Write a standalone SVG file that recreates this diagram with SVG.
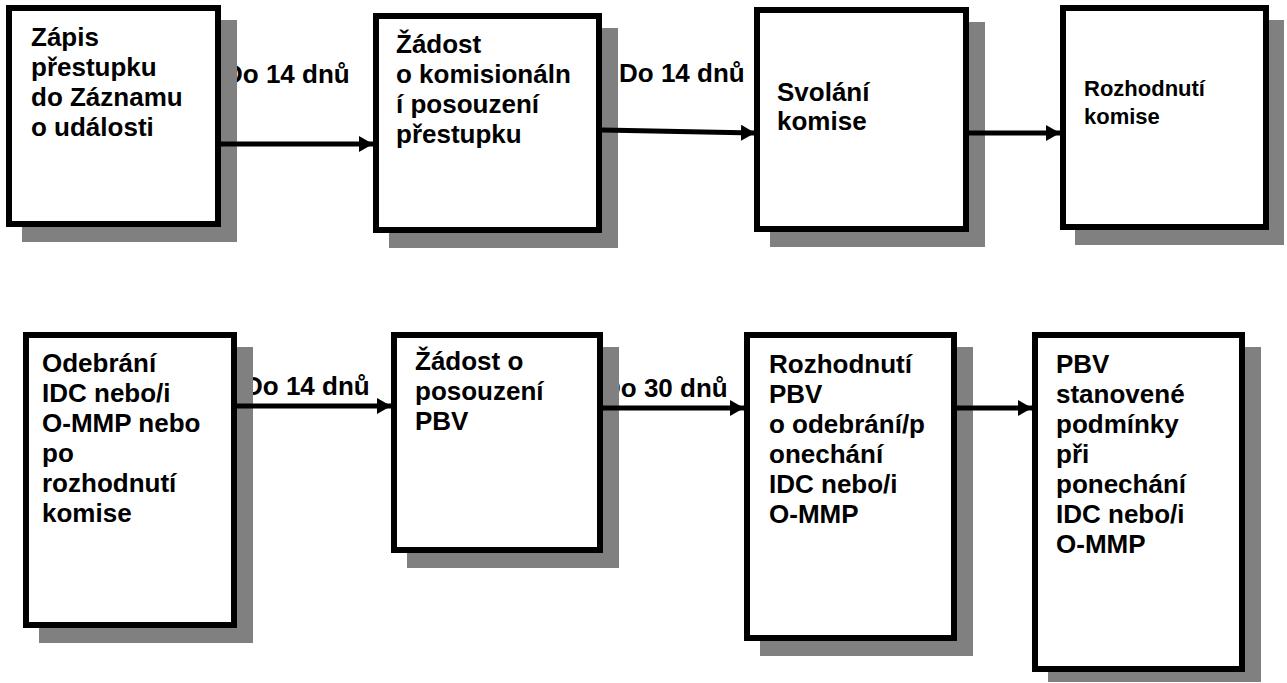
<svg xmlns="http://www.w3.org/2000/svg" width="1287" height="683" viewBox="0 0 1287 683">
  <defs>
    <marker id="ah" markerUnits="userSpaceOnUse" markerWidth="14" markerHeight="18" refX="14" refY="8" orient="auto">
      <path d="M0,0 L14,8 L0,16 z" fill="#000"/>
    </marker>
  </defs>
  <style>
    .shadow { fill: #808080; }
    .box { fill: #fff; stroke: #000; stroke-width: 6; }
    .t { font-family: "Liberation Sans", Arial, sans-serif; font-weight: bold; font-size: 26px; fill: #000; }
    .small { font-size: 22px; }
    .conn { fill: none; stroke: #000; stroke-width: 5; marker-end: url(#ah); }
  </style>
  <rect width="1287" height="683" fill="#fff"/>

  <g id="labels" class="t">
    <text x="224" y="83">Do 14 dnů</text>
    <text x="619" y="82">Do 14 dnů</text>
    <text x="244" y="395">Do 14 dnů</text>
    <text x="602" y="397">Do 30 dnů</text>
  </g>

  <g id="n1">
    <rect class="shadow" x="22" y="20" width="215" height="222"/>
    <rect class="box" x="9" y="8" width="209" height="216"/>
    <text class="t"><tspan x="31" y="46">Zápis</tspan><tspan x="31" y="76">přestupku</tspan><tspan x="31" y="106">do Záznamu</tspan><tspan x="31" y="136">o události</tspan></text>
  </g>
  <g id="n2">
    <rect class="shadow" x="389" y="28" width="229" height="220"/>
    <rect class="box" x="376" y="16" width="223" height="214"/>
    <text class="t"><tspan x="396" y="53">Žádost</tspan><tspan x="396" y="83">o komisionáln</tspan><tspan x="396" y="113">í posouzení</tspan><tspan x="396" y="143">přestupku</tspan></text>
  </g>
  <g id="n3">
    <rect class="shadow" x="770" y="22" width="215" height="225"/>
    <rect class="box" x="757" y="10" width="209" height="219"/>
    <text class="t"><tspan x="777" y="101">Svolání</tspan><tspan x="777" y="130">komise</tspan></text>
  </g>
  <g id="n4">
    <rect class="shadow" x="1075" y="20" width="209" height="225"/>
    <rect class="box" x="1063" y="8" width="203" height="219"/>
    <text class="t small"><tspan x="1084" y="96">Rozhodnutí</tspan><tspan x="1084" y="124">komise</tspan></text>
  </g>

  <g id="n5">
    <rect class="shadow" x="39" y="347" width="214" height="296"/>
    <rect class="box" x="26" y="335" width="208" height="290"/>
    <text class="t"><tspan x="42" y="372">Odebrání</tspan><tspan x="42" y="402">IDC nebo/i</tspan><tspan x="42" y="432">O-MMP nebo</tspan><tspan x="42" y="462">po</tspan><tspan x="42" y="492">rozhodnutí</tspan><tspan x="42" y="522">komise</tspan></text>
  </g>
  <g id="n6">
    <rect class="shadow" x="407" y="347" width="212" height="221"/>
    <rect class="box" x="394" y="335" width="206" height="215"/>
    <text class="t"><tspan x="415" y="370">Žádost o</tspan><tspan x="415" y="400">posouzení</tspan><tspan x="415" y="430">PBV</tspan></text>
  </g>
  <g id="n7">
    <rect class="shadow" x="760" y="347" width="213" height="309"/>
    <rect class="box" x="747" y="335" width="207" height="303"/>
    <text class="t"><tspan x="769" y="373">Rozhodnutí</tspan><tspan x="769" y="403">PBV</tspan><tspan x="769" y="433">o odebrání/p</tspan><tspan x="769" y="463">onechání</tspan><tspan x="769" y="493">IDC nebo/i</tspan><tspan x="769" y="523">O-MMP</tspan></text>
  </g>
  <g id="n8">
    <rect class="shadow" x="1048" y="347" width="213" height="335"/>
    <rect class="box" x="1035" y="335" width="207" height="334"/>
    <text class="t"><tspan x="1056" y="373">PBV</tspan><tspan x="1056" y="403">stanovené</tspan><tspan x="1056" y="433">podmínky</tspan><tspan x="1056" y="463">při</tspan><tspan x="1056" y="493">ponechání</tspan><tspan x="1056" y="523">IDC nebo/i</tspan><tspan x="1056" y="553">O-MMP</tspan></text>
  </g>

  <g id="connectors">
    <path class="conn" d="M221,144 L373,144"/>
    <path class="conn" d="M602,130 L755,133"/>
    <path class="conn" d="M969,133 L1060,133"/>
    <path class="conn" d="M237,406 L391,406"/>
    <path class="conn" d="M603,408 L744,408"/>
    <path class="conn" d="M957,408 L1032,408"/>
  </g>
</svg>
